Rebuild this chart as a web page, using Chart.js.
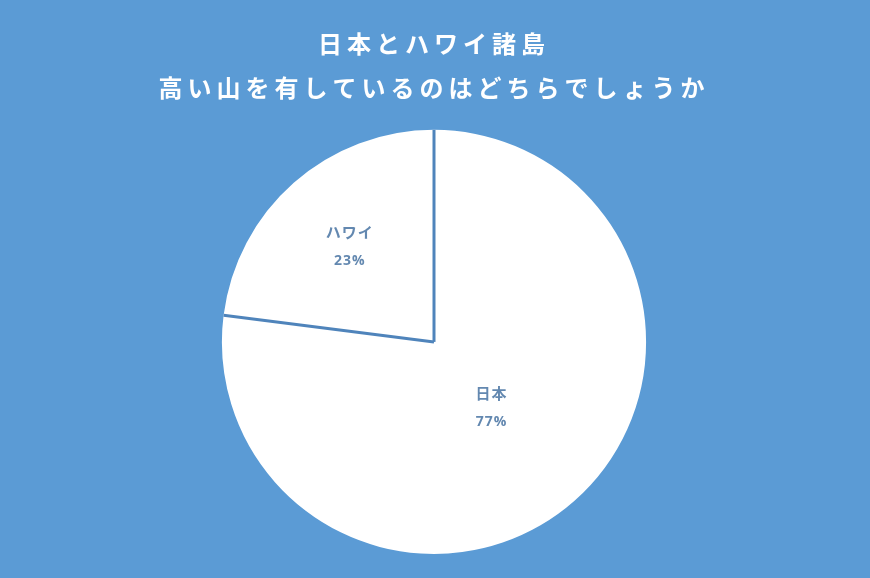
<!DOCTYPE html>
<html>
<head>
<meta charset="utf-8">
<script src="https://cdn.jsdelivr.net/npm/chart.js@4/dist/chart.umd.min.js"></script>
<style>
  html, body { margin: 0; padding: 0; background: #5b9bd5; }
  #wrap { width: 870px; height: 578px; }
</style>
</head>
<body>
<div id="wrap"><canvas id="pie-canvas" width="870" height="578"></canvas></div>
<script>
// data
const labels = ["日本", "ハワイ"];
const shares = [77, 23];
const titleLines = ["日本とハワイ諸島", "高い山を有しているのはどちらでしょうか"];
// how far out (fraction of radius) each label sits
const labelRadius = [0.41, 0.6];

const bg = "#5b9bd5";
const lineBlue = "#4f84bb";
const labelBlue = "#6388b0";

// title letter spacing
const spacingPlugin = {
    id: "spacing",
    beforeDraw(chart) {
        chart.ctx.letterSpacing = "5px";
    }
};

// radial separator lines only (no outer rim)
const separators = {
    id: "separators",
    afterDatasetsDraw(chart) {
        const ctx = chart.ctx;
        const meta = chart.getDatasetMeta(0);
        ctx.save();
        ctx.strokeStyle = lineBlue;
        ctx.lineWidth = 3;
        meta.data.forEach(function (arc) {
            ctx.beginPath();
            ctx.moveTo(arc.x, arc.y);
            ctx.lineTo(arc.x + Math.cos(arc.startAngle) * arc.outerRadius,
                       arc.y + Math.sin(arc.startAngle) * arc.outerRadius);
            ctx.stroke();
        });
        ctx.restore();
    }
};

// category name + percentage inside each slice
const sliceLabels = {
    id: "sliceLabels",
    afterDatasetsDraw(chart) {
        const ctx = chart.ctx;
        const meta = chart.getDatasetMeta(0);
        ctx.save();
        ctx.letterSpacing = "1px";
        ctx.fillStyle = labelBlue;
        ctx.textAlign = "center";
        ctx.textBaseline = "middle";
        meta.data.forEach(function (arc, i) {
            const mid = (arc.startAngle + arc.endAngle) / 2;
            const r = arc.outerRadius * labelRadius[i];
            const x = arc.x + Math.cos(mid) * r;
            const y = arc.y + Math.sin(mid) * r;
            ctx.font = "bold 15px 'Noto Sans CJK JP', sans-serif";
            ctx.fillText(labels[i], x, y - 14);
            ctx.font = "bold 14px 'Open Sans', 'Noto Sans', sans-serif";
            ctx.fillText(shares[i] + "%", x, y + 15);
        });
        ctx.restore();
    }
};

const ctx = document.getElementById("pie-canvas").getContext("2d");
const pie_chart = new Chart(ctx, {
    type: "pie",
    data: {
        labels: labels,
        datasets: [{
            data: shares,
            backgroundColor: "#ffffff",
            borderWidth: 0
        }]
    },
    options: {
        responsive: false,
        animation: false,
        layout: {
            padding: { left: 0, right: 2, top: 0, bottom: 24 }
        },
        plugins: {
            legend: { display: false },
            tooltip: { enabled: false },
            title: {
                display: true,
                text: titleLines,
                color: "#ffffff",
                font: { family: "'Noto Sans CJK JP', sans-serif", size: 24, weight: "bold", lineHeight: 1.83 },
                padding: { top: 22, bottom: 20 }
            }
        }
    },
    plugins: [spacingPlugin, separators, sliceLabels]
});
</script>
</body>
</html>
